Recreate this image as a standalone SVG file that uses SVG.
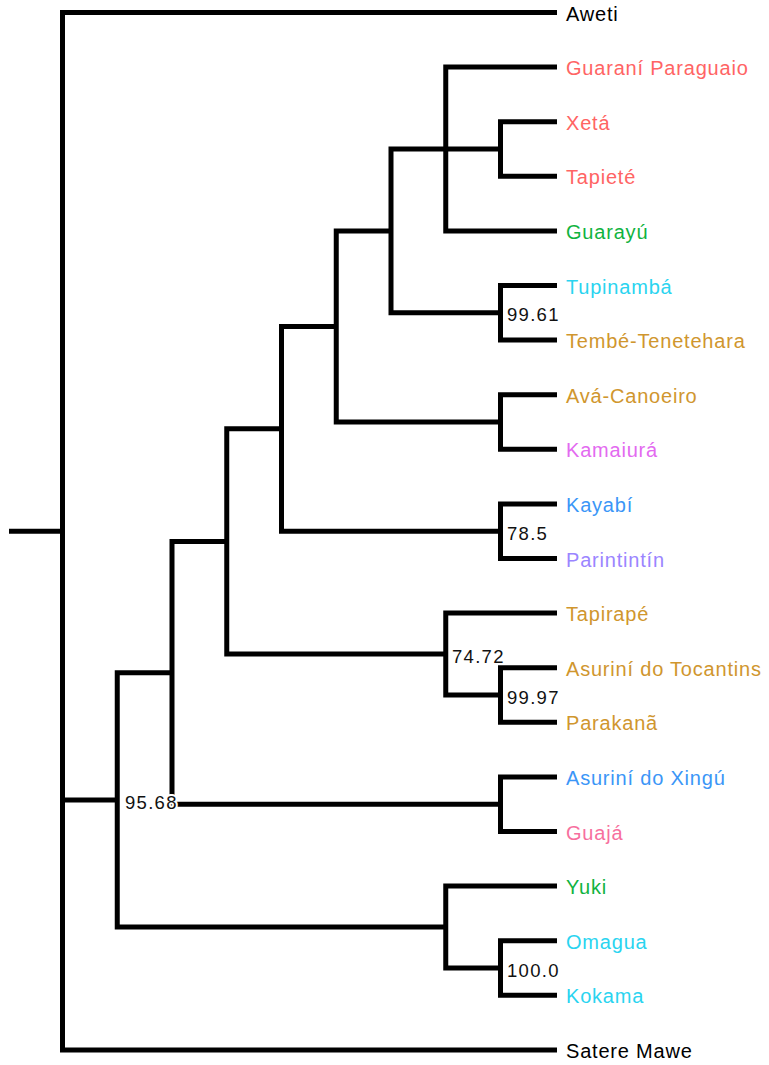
<svg xmlns="http://www.w3.org/2000/svg" width="769" height="1065" viewBox="0 0 769 1065">
<style>
.br{fill:none;stroke:#000;stroke-width:5;stroke-linejoin:miter;stroke-linecap:butt}
.lf{font-family:"Liberation Sans",Arial,sans-serif;font-size:20px;letter-spacing:0.8px}
.sp{font-family:"Liberation Sans",Arial,sans-serif;font-size:18.5px;letter-spacing:1.3px;fill:#111;stroke:#fff;stroke-width:4;paint-order:stroke;stroke-linejoin:round}
</style>
<rect width="769" height="1065" fill="#fff"/>
<g id="connectors">
<path class="br" d="M9,531.2 H62.5"/>
<path class="br" d="M557,12.5 H62.5 V1049.9 H557 M62.5,799.9 H117.25"/>
<path class="br" d="M172,672.8 H117.25 V927.05 H445.75"/>
<path class="br" d="M226.75,541.4 H172 V804.2 H500.5"/>
<path class="br" d="M281.5,428.8 H226.75 V654.05 H445.75"/>
<path class="br" d="M336.25,326.45 H281.5 V531.2 H500.5"/>
<path class="br" d="M391,230.9 H336.25 V422 H500.5"/>
<path class="br" d="M445.75,149 H391 V312.8 H500.5"/>
<path class="br" d="M557,67.1 H445.75 V230.9 H557 M445.75,149 H500.5"/>
<path class="br" d="M557,121.7 H500.5 V176.3 H557"/>
<path class="br" d="M557,285.5 H500.5 V340.1 H557"/>
<path class="br" d="M557,394.7 H500.5 V449.3 H557"/>
<path class="br" d="M557,503.9 H500.5 V558.5 H557"/>
<path class="br" d="M557,613.1 H445.75 V695 H500.5"/>
<path class="br" d="M557,667.7 H500.5 V722.3 H557"/>
<path class="br" d="M557,776.9 H500.5 V831.5 H557"/>
<path class="br" d="M557,886.1 H445.75 V968 H500.5"/>
<path class="br" d="M557,940.7 H500.5 V995.3 H557"/>
</g>
<g id="leaf-aweti"><text class="lf" x="566" y="20.5" fill="#000">Aweti</text></g>
<g id="leaf-guarani-paraguaio"><text class="lf" x="566" y="75.1" fill="#ff6464">Guaraní Paraguaio</text></g>
<g id="leaf-xeta"><text class="lf" x="566" y="129.7" fill="#ff6464">Xetá</text></g>
<g id="leaf-tapiete"><text class="lf" x="566" y="184.3" fill="#ff6464">Tapieté</text></g>
<g id="leaf-guarayu"><text class="lf" x="566" y="238.9" fill="#11b33f">Guarayú</text></g>
<g id="leaf-tupinamba"><text class="lf" x="566" y="293.5" fill="#2ad4f0">Tupinambá</text></g>
<g id="leaf-tembe-tenetehara"><text class="lf" x="566" y="348.1" fill="#d0962e">Tembé-Tenetehara</text></g>
<g id="leaf-ava-canoeiro"><text class="lf" x="566" y="402.7" fill="#d0962e">Avá-Canoeiro</text></g>
<g id="leaf-kamaiura"><text class="lf" x="566" y="457.3" fill="#e36af0">Kamaiurá</text></g>
<g id="leaf-kayabi"><text class="lf" x="566" y="511.9" fill="#3b96f7">Kayabí</text></g>
<g id="leaf-parintintin"><text class="lf" x="566" y="566.5" fill="#9b85ff">Parintintín</text></g>
<g id="leaf-tapirape"><text class="lf" x="566" y="621.1" fill="#d0962e">Tapirapé</text></g>
<g id="leaf-asurini-tocantins"><text class="lf" x="566" y="675.7" fill="#d0962e">Asuriní do Tocantins</text></g>
<g id="leaf-parakana"><text class="lf" x="566" y="730.3" fill="#d0962e">Parakanã</text></g>
<g id="leaf-asurini-xingu"><text class="lf" x="566" y="784.9" fill="#3b96f7">Asuriní do Xingú</text></g>
<g id="leaf-guaja"><text class="lf" x="566" y="839.5" fill="#f76f9e">Guajá</text></g>
<g id="leaf-yuki"><text class="lf" x="566" y="894.1" fill="#11b33f">Yuki</text></g>
<g id="leaf-omagua"><text class="lf" x="566" y="948.7" fill="#2ad4f0">Omagua</text></g>
<g id="leaf-kokama"><text class="lf" x="566" y="1003.3" fill="#2ad4f0">Kokama</text></g>
<g id="leaf-satere-mawe"><text class="lf" x="566" y="1057.9" fill="#000">Satere Mawe</text></g>
<g id="node-tupinamba-tembe"><text class="sp" x="507" y="321">99.61</text></g>
<g id="node-kayabi-parintintin"><text class="sp" x="507" y="540">78.5</text></g>
<g id="node-tapirape-clade"><text class="sp" x="452" y="662.5">74.72</text></g>
<g id="node-asurini-parakana"><text class="sp" x="507" y="704">99.97</text></g>
<g id="node-core-clade"><text class="sp" x="125" y="809">95.68</text></g>
<g id="node-omagua-kokama"><text class="sp" x="507" y="977">100.0</text></g>
</svg>
